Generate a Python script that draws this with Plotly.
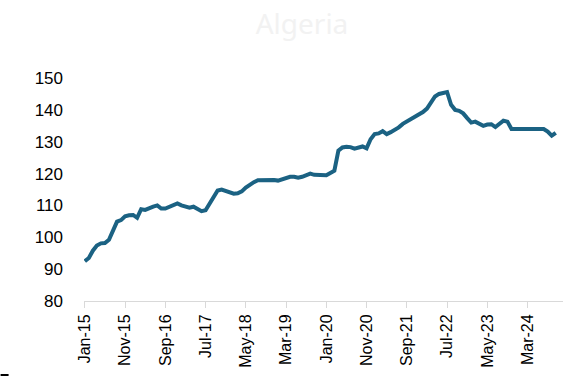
import pandas as pd
import plotly.graph_objects as go

# Monthly index, Jan 2015 to Oct 2024
start_month = "2015-01-01"
values = [
    92.5, 93.5, 95.8, 97.4, 98.1, 98.2, 99.2, 102.3, 104.9, 105.4,
    106.6, 106.9, 107.0, 106.1, 108.8, 108.6, 109.2, 109.6, 110.0, 109.0,
    109.0, 109.6, 110.2, 110.6, 110.0, 109.5, 109.3, 109.6, 108.9, 108.2,
    108.5, 110.5, 112.8, 114.7, 115.0, 114.6, 114.0, 113.7, 113.8, 114.4,
    115.6, 116.5, 117.3, 117.9, 118.0, 118.0, 118.2, 118.0, 117.8, 118.3,
    118.7, 119.0, 119.0, 118.7, 119.0, 119.6, 120.0, 119.6, 119.5, 119.5,
    119.5, 120.2, 120.9, 127.2, 128.2, 128.4, 128.3, 127.8, 128.1, 128.5,
    127.9, 130.8, 132.4, 132.6, 133.3, 132.4, 133.0, 133.7, 134.5, 135.6,
    136.3, 136.9, 137.6, 138.4, 139.3, 140.4, 142.6, 144.2, 145.0, 145.3,
    145.6, 141.6, 140.0, 139.7, 138.9, 137.4, 136.0, 136.3, 135.7, 135.0,
    135.4, 135.5, 134.6, 135.8, 136.6, 136.3, 134.0, 134.0, 134.0, 134.0,
    134.0, 134.0, 134.0, 134.0, 134.0, 133.2, 131.9, 132.8,
]
months = [d.strftime("%b-%y") for d in pd.date_range(start_month, periods=len(values), freq="MS")]
label_step = 10
tick_labels = months[::label_step]

y_ticks = [80, 90, 100, 110, 120, 130, 140, 150]

W, H = 563, 388
ml, mr, mt, mb = 83.5, 0, 78, 87

fig = go.Figure()
fig.add_trace(go.Scatter(
    x=list(range(len(months))),
    y=values,
    mode="lines",
    line=dict(color="#1b6283", width=4),
    hoverinfo="skip",
    text=months,
))

fig.update_layout(
    width=W, height=H,
    margin=dict(l=ml, r=mr, t=mt, b=mb, pad=0),
    paper_bgcolor="white",
    plot_bgcolor="white",
    showlegend=False,
    font=dict(family="Liberation Sans, Arial, sans-serif", color="#000000"),
    title=dict(
        text="Algeria",
        x=302 / W, xanchor="center",
        y=1 - 24 / H, yanchor="middle",
        font=dict(family="Noto Sans, Open Sans, sans-serif", size=28, color="#f2f2f2"),
    ),
)

fig.update_xaxes(
    range=[-0.2, 118.8],
    tickmode="array",
    tickvals=list(range(0, len(months), label_step)),
    ticktext=tick_labels,
    tickangle=-90,
    tickfont=dict(size=16, color="#000000"),
    ticks="outside", ticklen=6, tickwidth=1, tickcolor="#d9d9d9",
    showline=True, linecolor="#d9d9d9", linewidth=1,
    showgrid=False, zeroline=False,
)

fig.update_yaxes(
    range=[80, 150],
    tickmode="array",
    tickvals=y_ticks,
    tickfont=dict(size=17, color="#000000"),
    ticklabelstandoff=20,
    showline=False, showgrid=False, zeroline=False,
)

# short stroke at the lower-left corner
pw = W - ml - mr
ph = H - mt - mb
fig.add_shape(
    type="line", xref="paper", yref="paper",
    x0=(0 - ml) / pw, x1=(8 - ml) / pw,
    y0=(H - mb - 375) / ph, y1=(H - mb - 375) / ph,
    line=dict(color="#000000", width=2),
)

fig.write_html("out.html")
